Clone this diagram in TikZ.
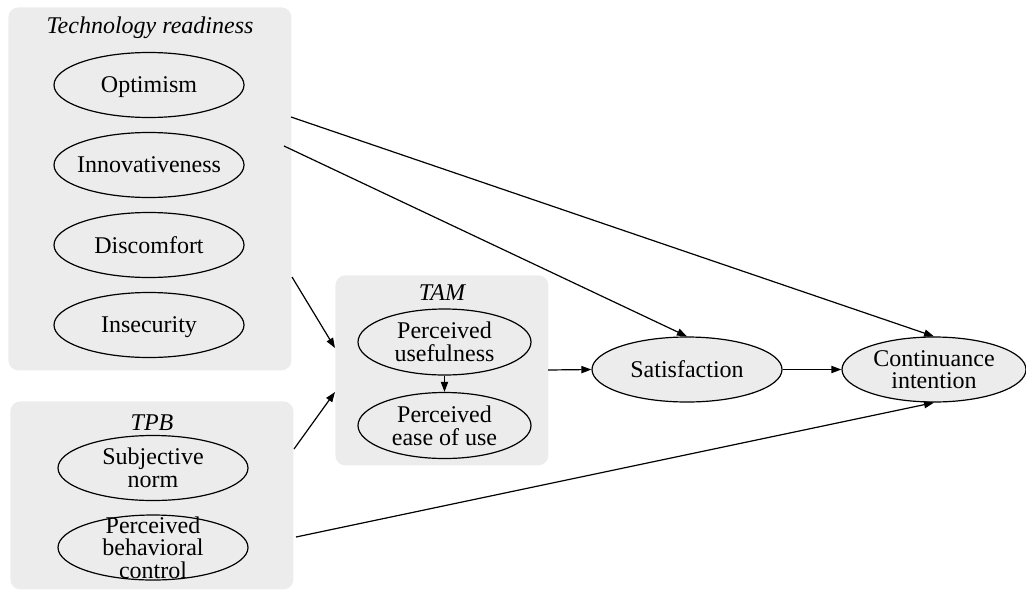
\documentclass[tikz,border=0pt]{standalone}
\usepackage{fontspec}
\setmainfont{Liberation Serif}
\usetikzlibrary{shapes.geometric,arrows.meta}
\definecolor{clu}{HTML}{ECECEC}
\begin{document}
\begin{tikzpicture}[x=0.5pt,y=-0.5pt,
  cluster/.style={draw=none, fill=clu, rounded corners=5pt, inner sep=0, anchor=north west},
  ell/.style={ellipse, draw, fill=clu, line width=0.6pt, inner sep=0, minimum width=95pt, minimum height=32.5pt},
  lbl/.style={font=\fontsize{12}{11.3}\selectfont, align=center, inner sep=0},
  ttl/.style={font=\fontsize{12}{14}\selectfont\itshape, inner sep=0},
  arr/.style={-{Triangle[length=5pt,width=3.6pt]}, line width=0.6pt},
  ln/.style={line width=0.6pt}]
\useasboundingbox (0,0) rectangle (1026,589);
% clusters
\node[cluster, minimum width=141.5pt, minimum height=181.5pt] (tr) at (8,7) {};
\node[cluster, minimum width=141.5pt, minimum height=94pt] (tpb) at (10,401) {};
\node[cluster, minimum width=106.5pt, minimum height=95pt] (tam) at (335,275) {};
\node[ttl] (trt) at (150,28) {Technology readiness};
\node[ttl] (tpbt) at (152,423) {TPB};
\node[ttl] (tamt) at (442,293) {TAM};
% ellipses
\node[ell] (opt) at (149,85) {};
\node[lbl, yshift=-1.2pt] at (opt) {Optimism};
\node[ell] (inn) at (149,165) {};
\node[lbl] at (inn) {Innovativeness};
\node[ell] (dis) at (149,245) {};
\node[lbl] at (dis) {Discomfort};
\node[ell] (ins) at (149,325) {};
\node[lbl, yshift=-1.2pt] at (ins) {Insecurity};
\node[ell] (sn) at (153,468) {};
\node[lbl] at (sn) {Subjective\\norm};
\node[ell] (pbc) at (153,547.5) {};
\node[lbl] at (pbc) {Perceived\\behavioral\\control};
\node[ell, minimum width=86.5pt, minimum height=33pt] (pu) at (444.5,342) {};
\node[lbl] at (pu) {Perceived\\usefulness};
\node[ell, minimum width=86.5pt, minimum height=33pt] (peou) at (444.5,425.5) {};
\node[lbl] at (peou) {Perceived\\ease of use};
\node[ell] (sat) at (687,369.5) {};
\node[lbl] at (sat) {Satisfaction};
\node[ell, minimum width=92pt] (ci) at (934,369.5) {};
\node[lbl] at (ci) {Continuance\\intention};
% edge end points on cluster borders
\coordinate (a1) at (291,117);
\coordinate (a2) at (284,146);
\coordinate (a3) at (292,277);
\coordinate (a4) at (294,449);
\coordinate (a5) at (296,537);
\coordinate (t1) at (335,348);
\coordinate (t2) at (335,392);
\coordinate (t3) at (548,370);
% edges
\draw[arr] (a1) -- (ci.north);
\draw[arr] (a2) -- (sat.north);
\draw[arr] (a3) -- (t1);
\draw[arr] (a4) -- (t2);
\draw[arr] (t3) -- (sat.west);
\draw[arr] (sat.east) -- (ci.west);
\draw[arr] (a5) -- (ci.south);
\draw[arr] (pu.south) -- (peou.north);
\end{tikzpicture}
\end{document}
